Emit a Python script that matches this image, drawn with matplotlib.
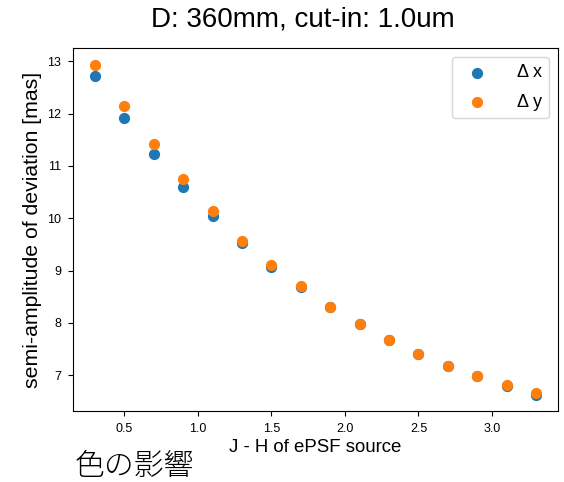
import matplotlib
matplotlib.use("Agg")
import matplotlib.pyplot as plt

jh = [0.3, 0.5, 0.7, 0.9, 1.1, 1.3, 1.5, 1.7, 1.9, 2.1, 2.3, 2.5, 2.7, 2.9, 3.1, 3.3]
dx = [12.72, 11.92, 11.22, 10.59, 10.05, 9.53, 9.07, 8.68, 8.30, 7.98, 7.67, 7.40, 7.17, 6.98, 6.80, 6.63]
dy = [12.94, 12.15, 11.43, 10.75, 10.14, 9.57, 9.10, 8.70, 8.31, 7.98, 7.68, 7.41, 7.18, 6.99, 6.81, 6.65]

plt.rcParams['font.family'] = ['Liberation Sans', 'DejaVu Sans']

fig = plt.figure(figsize=(5.64, 4.82), dpi=100)
ax = fig.add_axes([0.1295, 0.1473, 0.860, 0.753])
ax.scatter(jh, dx, color='#1f77b4', s=50, label='Δ x', zorder=2)
ax.scatter(jh, dy, color='#ff7f0e', s=50, label='Δ y', zorder=3)
ax.set_yticks([7, 8, 9, 10, 11, 12, 13])
ax.set_xticks([0.5, 1.0, 1.5, 2.0, 2.5, 3.0])
ax.tick_params(labelsize=9)
ax.tick_params(axis='x', pad=5)
ax.tick_params(axis='y', pad=5)
ax.set_xlabel('J - H of ePSF source', fontsize=13.4, labelpad=3)
ax.set_ylabel('semi-amplitude of deviation [mas]', fontsize=15.3, labelpad=4)
fig.text(0.537, 0.944, 'D: 360mm, cut-in: 1.0um', fontsize=20, ha='center', va='baseline')
ax.legend(loc='upper right', fontsize=13, handletextpad=1.2, labelspacing=0.7)
fig.text(0.132, 0.014, '色の影響', fontsize=21.5, family=['Noto Sans CJK JP'], fontweight='light')
fig.savefig('out.png', dpi=100)
